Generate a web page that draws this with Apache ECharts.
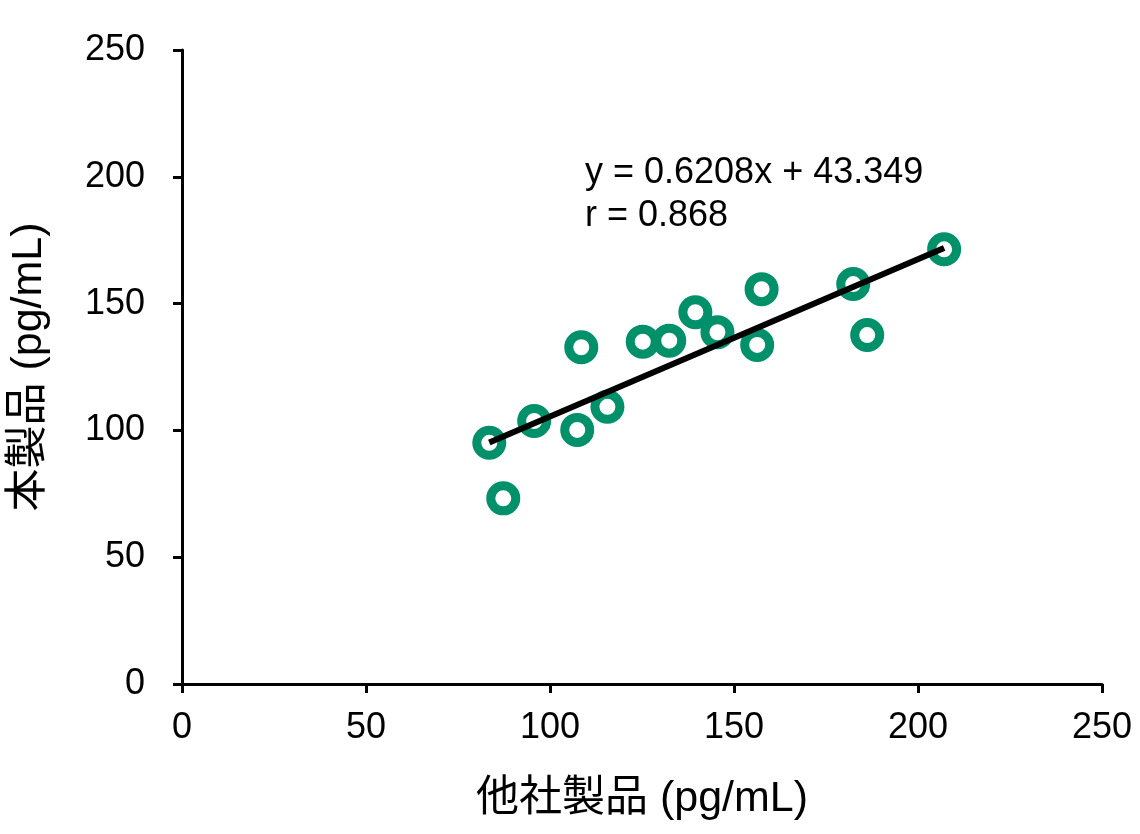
<!DOCTYPE html>
<html>
<head>
<meta charset="utf-8">
<script src="https://cdn.jsdelivr.net/npm/echarts@6/dist/echarts.min.js"></script>
<style>
  html, body { margin: 0; padding: 0; background: #fff; }
  #chart { width: 1140px; height: 834px; }
</style>
</head>
<body>
<div id="chart"></div>
<script>
// 他社製品 vs 本製品 (pg/mL)
const otherProduct = [83.5, 87.3, 95.7, 107.4, 108.5, 115.6, 125.2, 132.4, 139.5, 145.5, 156.3, 157.5, 182.4, 186.2, 207.1]
const thisProduct = [95.1, 73.2, 103.7, 100.2, 132.8, 109.3, 135.0, 135.4, 146.6, 138.7, 133.7, 155.7, 157.7, 137.6, 171.4]
const slope = 0.6208
const intercept = 43.349
const rValue = 0.868
const axisTicks = [0, 50, 100, 150, 200, 250]

const FONT = "'Liberation Sans', Arial, 'Noto Sans CJK JP', sans-serif"
const GREEN = '#00906A'

const points = otherProduct.map((x, i) => [x, thisProduct[i]])
const xMin = Math.min(...otherProduct)
const xMax = Math.max(...otherProduct)
const trend = [[xMin, slope * xMin + intercept], [xMax, slope * xMax + intercept]]

const chart = echarts.init(document.getElementById('chart'))

const axisCommon = {
  type: 'value',
  min: axisTicks[0],
  max: axisTicks[axisTicks.length - 1],
  interval: 50,
  nameLocation: 'middle',
  nameTextStyle: { fontFamily: FONT, fontSize: 43, color: '#000' },
  axisLine: { show: true, onZero: false, lineStyle: { color: '#000', width: 3 } },
  axisTick: { show: true, inside: false, length: 9, lineStyle: { color: '#000', width: 3 } },
  axisLabel: { fontFamily: FONT, fontSize: 36, color: '#000' },
  splitLine: { show: false },
}

chart.setOption({
  animation: false,
  backgroundColor: '#fff',
  grid: { left: 182, right: 38, top: 50, bottom: 150 },
  xAxis: {
    ...axisCommon,
    name: '他社製品 (pg/mL)',
    nameGap: 94,
    axisLabel: { ...axisCommon.axisLabel, margin: 26 },
  },
  yAxis: {
    ...axisCommon,
    name: '本製品 (pg/mL)',
    nameGap: 131,
    axisLabel: { ...axisCommon.axisLabel, margin: 37 },
  },
  graphic: [{
    type: 'text',
    left: 585,
    top: 152,
    style: {
      text: 'y = ' + slope + 'x + ' + intercept + '\nr = ' + rValue,
      fontFamily: FONT,
      fontSize: 36,
      lineHeight: 43,
      fill: '#000',
    },
  }],
  series: [
    {
      type: 'line',
      data: trend,
      symbol: 'none',
      lineStyle: { color: '#000', width: 6 },
      z: 3,
    },
    {
      type: 'scatter',
      data: points,
      symbol: 'circle',
      symbolSize: 25,
      itemStyle: { color: '#fff', borderColor: GREEN, borderWidth: 9, opacity: 1 },
      z: 2,
    },
  ],
})
</script>
</body>
</html>
